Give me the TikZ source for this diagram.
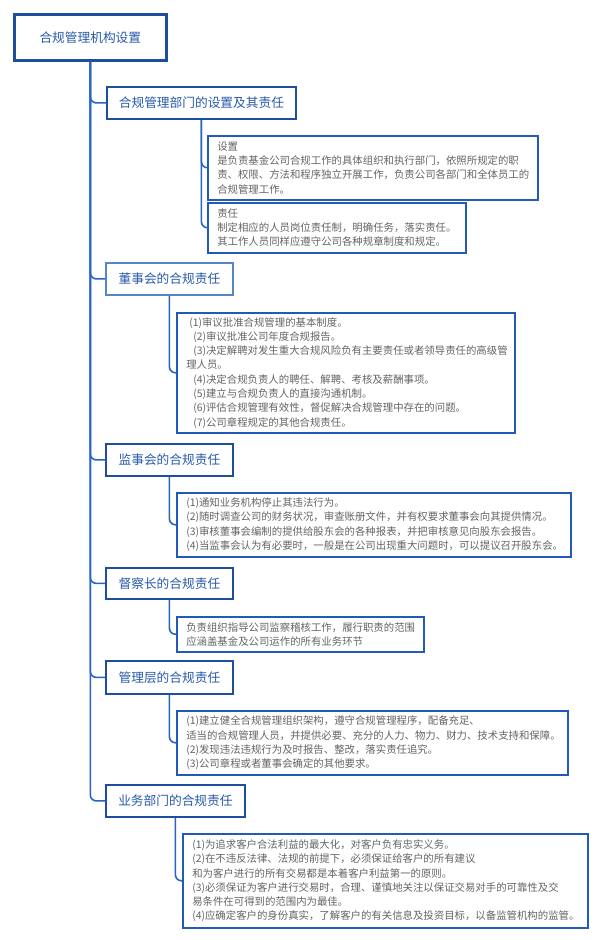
\documentclass[tikz,border=0pt]{standalone}
\usepackage{fontspec}
\setmainfont{Noto Sans CJK SC}
\definecolor{cDark}{RGB}{30,78,160}
\definecolor{cLight}{RGB}{88,132,200}
\definecolor{cText}{RGB}{40,90,170}
\definecolor{cLine}{RGB}{40,100,195}
\definecolor{cLeaf}{RGB}{35,90,185}
\definecolor{cBody}{RGB}{100,100,100}
\begin{document}
\begin{tikzpicture}[x=1pt,y=-1pt,
  rootbox/.style={draw=cDark, line width=2.6pt, fill=white, text=cText,
    font=\fontsize{12.7}{15}\selectfont, minimum width=152pt, minimum height=46pt,
    inner sep=0pt, anchor=north west},
  lvlbox/.style={draw=cDark, line width=1.8pt, fill=white, text=cText,
    font=\fontsize{12.7}{15}\selectfont, minimum height=32pt,
    inner sep=0pt, anchor=north west},
  leafbox/.style={draw=cLeaf, line width=1.5pt, fill=white, text=cBody,
    font=\fontsize{10.4}{14.3}\selectfont, align=left, anchor=north west,
    inner xsep=9.5pt, inner ysep=0pt},
  conn/.style={draw=cLine, line width=1.6pt, rounded corners=6pt}]
\useasboundingbox[fill=white] (0,0) rectangle (600,940);

% root
\node[rootbox] (root) at (13,13) {合规管理机构设置};

% level 1
\node[lvlbox, minimum width=189pt] (L1) at (106,86) {合规管理部门的设置及其责任};
\node[lvlbox, minimum width=127pt, draw=cLight] (L2) at (105,262) {董事会的合规责任};
\node[lvlbox, minimum width=127pt] (L3) at (105,443) {监事会的合规责任};
\node[lvlbox, minimum width=127pt, minimum height=31pt] (L4) at (105,567) {督察长的合规责任};
\node[lvlbox, minimum width=127pt, minimum height=33pt] (L5) at (105,660) {管理层的合规责任};
\node[lvlbox, minimum width=139pt] (L6) at (105,784) {业务部门的合规责任};

% leaves
\node[leafbox, text width=311pt, minimum height=64pt] (set) at (207,135)
 {设置\\是负责基金公司合规工作的具体组织和执行部门，依照所规定的职\\责、权限、方法和程序独立开展工作，负责公司各部门和全体员工的\\合规管理工作。};
\node[leafbox, text width=239pt, minimum height=50pt] (resp) at (207,202)
 {责任\\制定相应的人员岗位责任制，明确任务，落实责任。\\其工作人员同样应遵守公司各种规章制度和规定。};
\node[leafbox, text width=319pt, minimum height=120pt] (dsh) at (176,312)
 {\hspace{3pt}(1)审议批准合规管理的基本制度。\\
  \hspace{7pt}(2)审议批准公司年度合规报告。\\
  \hspace{7pt}(3)决定解聘对发生重大合规风险负有主要责任或者领导责任的高级管\\
  理人员。\\
  \hspace{7pt}(4)决定合规负责人的聘任、解聘、考核及薪酬事项。\\
  \hspace{7pt}(5)建立与合规负责人的直接沟通机制。\\
  \hspace{7pt}(6)评估合规管理有效性，督促解决合规管理中存在的问题。\\
  \hspace{7pt}(7)公司章程规定的其他合规责任。};
\node[leafbox, text width=375pt, minimum height=64pt] (jsh) at (176,492)
 {(1)通知业务机构停止其违法行为。\\
  (2)随时调查公司的财务状况，审查账册文件，并有权要求董事会向其提供情况。\\
  (3)审核董事会编制的提供给股东会的各种报表，并把审核意见向股东会报告。\\
  (4)当监事会认为有必要时，一般是在公司出现重大问题时，可以提议召开股东会。};
\node[leafbox, text width=228pt, minimum height=35pt] (dcz) at (176,616)
 {负责组织指导公司监察稽核工作，履行职责的范围\\应涵盖基金及公司运作的所有业务环节};
\node[leafbox, text width=372pt, minimum height=64pt] (glc) at (176,710)
 {(1)建立健全合规管理组织架构，遵守合规管理程序，配备充足、\\
  适当的合规管理人员，并提供必要、充分的人力、物力、财力、技术支持和保障。\\
  (2)发现违法违规行为及时报告、整改，落实责任追究。\\
  (3)公司章程或者董事会确定的其他要求。};
\node[leafbox, text width=386pt, minimum height=94pt] (ywb) at (182,833)
 {(1)为追求客户合法利益的最大化，对客户负有忠实义务。\\
  (2)在不违反法律、法规的前提下，必须保证给客户的所有建议\\
  和为客户进行的所有交易都是本着客户利益第一的原则。\\
  (3)必须保证为客户进行交易时，合理、谨慎地关注以保证交易对手的可靠性及交\\
  易条件在可得到的范围内为最佳。\\
  (4)应确定客户的身份真实，了解客户的有关信息及投资目标，以备监管机构的监管。};

% connectors
\foreach \n in {L1,L2,L3,L4,L5,L6} {
  \draw[conn] (root.south) |- (\n.west);
}
\draw[conn] (L1.south) |- (set.west);
\draw[conn] (L1.south) |- (resp.west);
\draw[conn] (L2.south) |- (dsh.west);
\draw[conn] (L3.south) |- (jsh.west);
\draw[conn] (L4.south) |- (dcz.west);
\draw[conn] (L5.south) |- (glc.west);
\draw[conn] (L6.south) |- (ywb.west);
\end{tikzpicture}
\end{document}
